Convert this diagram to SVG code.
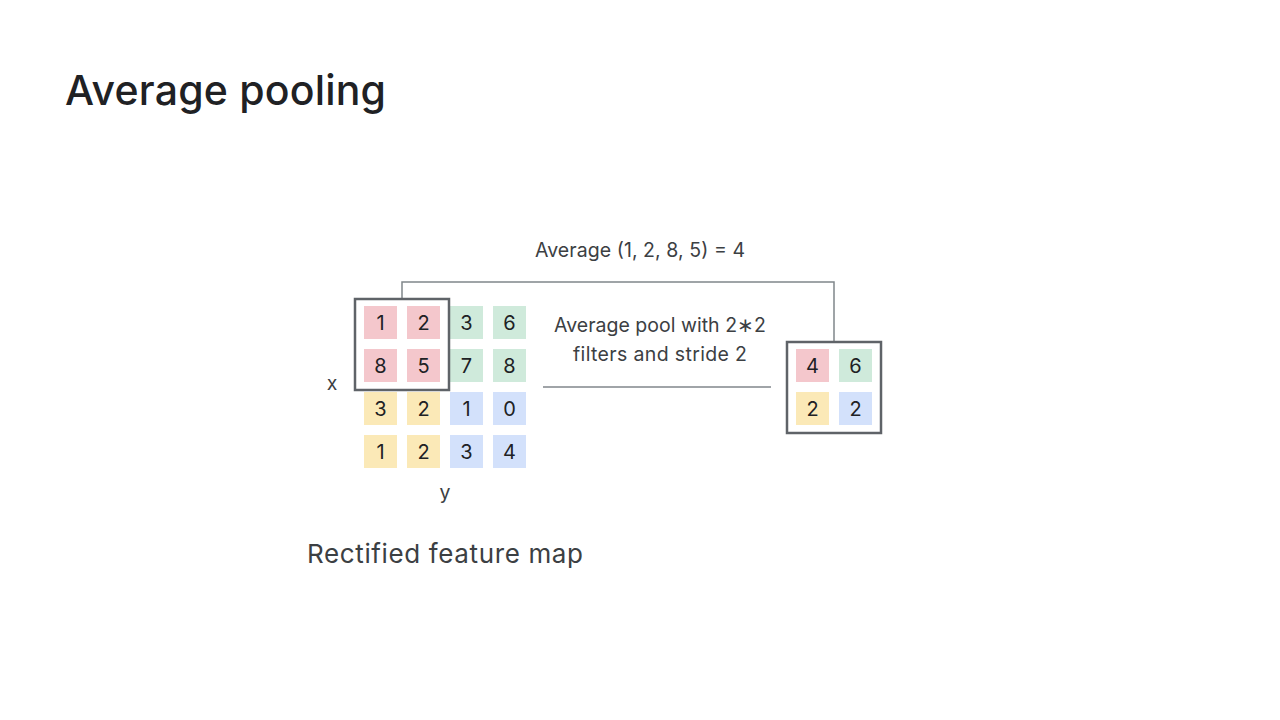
<svg xmlns="http://www.w3.org/2000/svg" width="1280" height="720" viewBox="0 0 1280 720">
<style>
text{font-family:"Inter","Roboto","Liberation Sans",sans-serif;fill:#202124}
.r{fill:#f4c7cc}.g{fill:#cfeadb}.yl{fill:#fbe9b7}.b{fill:#d3e1fb}
.n{font-size:20px;text-anchor:middle}
.lbl{font-size:19.5px;fill:#3c4043}
.box{fill:none;stroke:#5f6368;stroke-width:2.5}
</style>
<rect width="1280" height="720" fill="#fff"/>
<text x="65" y="105" font-size="41" textLength="321" style="font-weight:500">Average pooling</text>
<g id="connectors">
<polyline points="402,299 402,282 834,282 834,342" fill="none" stroke="#80868b" stroke-width="1.5"/>
<line x1="543" y1="387" x2="771" y2="387" stroke="#80868b" stroke-width="1.5"/>
</g>
<g id="input-map">
<rect class="r" x="364" y="306" width="33" height="33"/><text class="n" x="380.5" y="330">1</text>
<rect class="r" x="407" y="306" width="33" height="33"/><text class="n" x="423.5" y="330">2</text>
<rect class="g" x="450" y="306" width="33" height="33"/><text class="n" x="466.5" y="330">3</text>
<rect class="g" x="493" y="306" width="33" height="33"/><text class="n" x="509.5" y="330">6</text>
<rect class="r" x="364" y="349" width="33" height="33"/><text class="n" x="380.5" y="373">8</text>
<rect class="r" x="407" y="349" width="33" height="33"/><text class="n" x="423.5" y="373">5</text>
<rect class="g" x="450" y="349" width="33" height="33"/><text class="n" x="466.5" y="373">7</text>
<rect class="g" x="493" y="349" width="33" height="33"/><text class="n" x="509.5" y="373">8</text>
<rect class="yl" x="364" y="392" width="33" height="33"/><text class="n" x="380.5" y="416">3</text>
<rect class="yl" x="407" y="392" width="33" height="33"/><text class="n" x="423.5" y="416">2</text>
<rect class="b" x="450" y="392" width="33" height="33"/><text class="n" x="466.5" y="416">1</text>
<rect class="b" x="493" y="392" width="33" height="33"/><text class="n" x="509.5" y="416">0</text>
<rect class="yl" x="364" y="435" width="33" height="33"/><text class="n" x="380.5" y="459">1</text>
<rect class="yl" x="407" y="435" width="33" height="33"/><text class="n" x="423.5" y="459">2</text>
<rect class="b" x="450" y="435" width="33" height="33"/><text class="n" x="466.5" y="459">3</text>
<rect class="b" x="493" y="435" width="33" height="33"/><text class="n" x="509.5" y="459">4</text>
<rect class="box" x="355" y="299" width="94" height="91"/>
<text class="lbl" x="332" y="390" text-anchor="middle">x</text>
<text class="lbl" x="445" y="499" text-anchor="middle">y</text>
</g>
<g id="output-map">
<rect fill="#fff" class="box" x="787" y="342" width="94" height="91"/>
<rect class="r" x="796" y="349" width="33" height="33"/><text class="n" x="812.5" y="373">4</text>
<rect class="g" x="839" y="349" width="33" height="33"/><text class="n" x="855.5" y="373">6</text>
<rect class="yl" x="796" y="392" width="33" height="33"/><text class="n" x="812.5" y="416">2</text>
<rect class="b" x="839" y="392" width="33" height="33"/><text class="n" x="855.5" y="416">2</text>
</g>
<g id="labels">
<text class="lbl" x="535" y="257" textLength="210">Average (1, 2, 8, 5) = 4</text>
<text class="lbl" x="554" y="332" textLength="212">Average pool with 2∗2</text>
<text class="lbl" x="573" y="361" textLength="174">filters and stride 2</text>
<text x="307" y="563" font-size="26" textLength="276" style="fill:#3c4043">Rectified feature map</text>
</g>
</svg>
